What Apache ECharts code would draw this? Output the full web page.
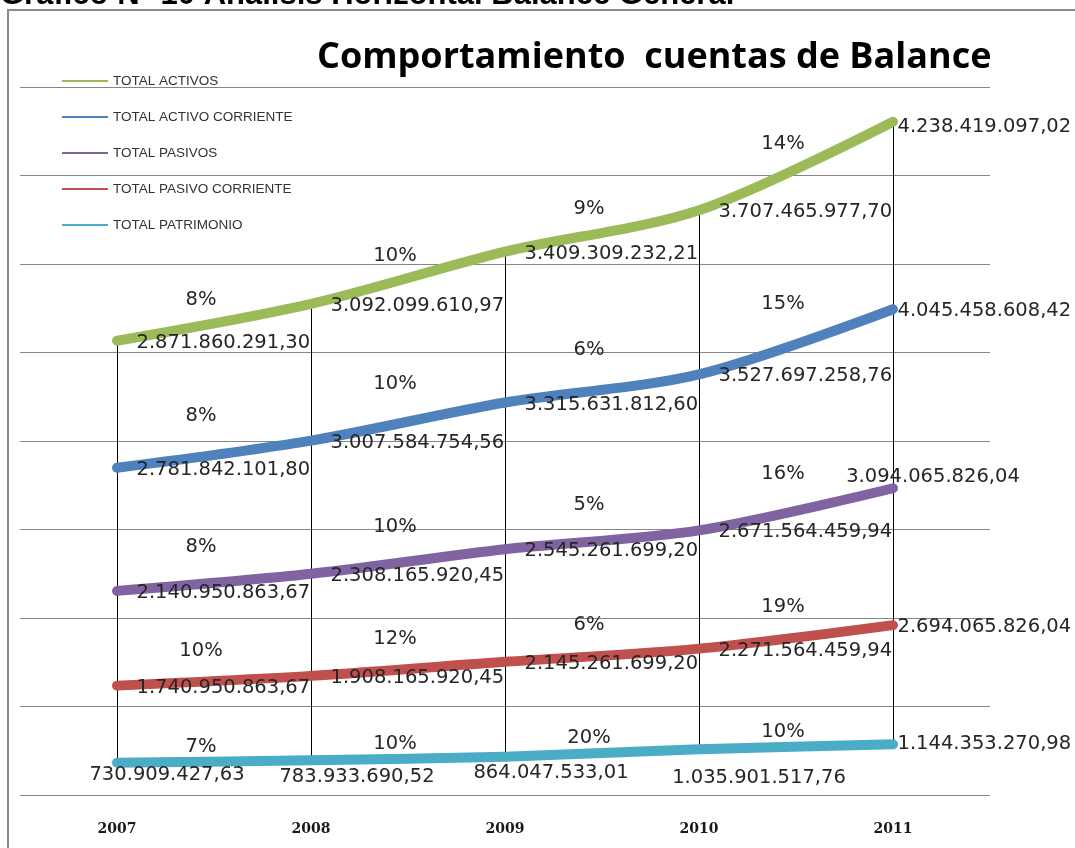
<!DOCTYPE html>
<html>
<head>
<meta charset="utf-8">
<script src="https://cdn.jsdelivr.net/npm/echarts@6/dist/echarts.min.js"></script>
<style>
html,body{margin:0;padding:0;background:#fff}
#chart{width:1075px;height:848px}
</style>
</head>
<body>
<div id="chart"></div>
<script>
var years = ['2007', '2008', '2009', '2010', '2011'];

// valores de cada cuenta
var totalActivos = [2871860291.30, 3092099610.97, 3409309232.21, 3707465977.70, 4238419097.02];
var totalActivoCorriente = [2781842101.80, 3007584754.56, 3315631812.60, 3527697258.76, 4045458608.42];
var totalPasivos = [2140950863.67, 2308165920.45, 2545261699.20, 2671564459.94, 3094065826.04];
var totalPasivoCorriente = [1740950863.67, 1908165920.45, 2145261699.20, 2271564459.94, 2694065826.04];
var totalPatrimonio = [730909427.63, 783933690.52, 864047533.01, 1035901517.76, 1144353270.98];

// variacion horizontal entre años
var pctActivos = ['8%', '10%', '9%', '14%'];
var pctActivoCorriente = ['8%', '10%', '6%', '15%'];
var pctPasivos = ['8%', '10%', '5%', '16%'];
var pctPasivoCorriente = ['10%', '12%', '6%', '19%'];
var pctPatrimonio = ['7%', '10%', '20%', '10%'];

var legendNames = ['TOTAL ACTIVOS', 'TOTAL ACTIVO CORRIENTE', 'TOTAL PASIVOS', 'TOTAL PASIVO CORRIENTE', 'TOTAL PATRIMONIO'];

var labelFont = 'DejaVu Sans';
var labelColor = '#262626';

/**
 * formato 1.234.567,89
 */
function fmt(v) {
  var p = v.toFixed(2).split('.');
  return p[0].replace(/\B(?=(\d{3})+(?!\d))/g, '.') + ',' + p[1];
}

// apilado (de abajo hacia arriba): patrimonio, pasivo corriente, pasivos, activo corriente, activos
var order = [
  {name: 'TOTAL PATRIMONIO', data: totalPatrimonio, pct: pctPatrimonio, color: '#4BACC6', dy: -15},
  {name: 'TOTAL PASIVO CORRIENTE', data: totalPasivoCorriente, pct: pctPasivoCorriente, color: '#C0504D', dy: -30},
  {name: 'TOTAL PASIVOS', data: totalPasivos, pct: pctPasivos, color: '#8064A2', dy: -35},
  {name: 'TOTAL ACTIVO CORRIENTE', data: totalActivoCorriente, pct: pctActivoCorriente, color: '#4F81BD', dy: -38},
  {name: 'TOTAL ACTIVOS', data: totalActivos, pct: pctActivos, color: '#9BBB59', dy: -22}
];

var cum = years.map(function () { return 0; });
order.forEach(function (s) {
  s.top = s.data.map(function (v, i) { cum[i] += v; return cum[i]; });
});

function labelFor(name, i) {
  var last = i === years.length - 1;
  if (name === 'TOTAL PATRIMONIO') {
    if (last) return {position: 'right', distance: 4};
    if (i === 3) return {position: 'bottom', distance: 18, offset: [60, 0]};
    if (i === 0) return {position: 'bottom', distance: 2, offset: [50, 0]};
    return {position: 'bottom', distance: 6, offset: [46, 0]};
  }
  if (name === 'TOTAL PASIVOS' && last) return {position: 'top', distance: 1, offset: [40, 0]};
  if (name === 'TOTAL ACTIVOS' && last) return {position: 'right', distance: 4, offset: [0, 5]};
  if (last) return {position: 'right', distance: 4, offset: [0, 2]};
  return {position: 'right', distance: 19, offset: [0, 2]};
}

var series = [];

// lineas de maximos y minimos
series.push({
  type: 'custom',
  silent: true,
  z: 1,
  data: years.map(function (y, i) { return [i, cum[i], totalPatrimonio[i]]; }),
  renderItem: function (params, api) {
    var a = api.coord([api.value(0), api.value(1)]);
    var b = api.coord([api.value(0), api.value(2)]);
    var x = Math.round(a[0]) + 0.5;
    return {type: 'line', shape: {x1: x, y1: a[1], x2: x, y2: b[1]}, style: {stroke: '#000', lineWidth: 1}};
  }
});

order.forEach(function (s) {
  series.push({
    name: s.name,
    type: 'line',
    stack: 'total',
    smooth: 0.3,
    symbol: 'circle',
    symbolSize: 1,
    z: 2,
    color: s.color,
    lineStyle: {width: 10, color: s.color, cap: 'round', join: 'round'},
    itemStyle: {color: s.color},
    label: {
      show: true,
      fontFamily: labelFont,
      fontSize: 19.5,
      color: labelColor,
      formatter: function (p) { return fmt(p.value); }
    },
    emphasis: {disabled: true},
    data: s.data.map(function (v, i) { return {value: v, label: labelFor(s.name, i)}; })
  });
  series.push({
    type: 'custom',
    silent: true,
    z: 3,
    data: s.pct.map(function (t, i) { return [i, i + 1]; }),
    renderItem: function (params, api) {
      var i = params.dataIndex;
      var a = api.coord([i, s.top[i]]);
      var b = api.coord([i + 1, s.top[i + 1]]);
      return {
        type: 'text',
        x: (a[0] + b[0]) / 2 - 13,
        y: (a[1] + b[1]) / 2 + s.dy,
        style: {text: s.pct[i], font: '19.5px "DejaVu Sans"', fill: labelColor, align: 'center', verticalAlign: 'middle'}
      };
    }
  });
});

var option = {
  animation: false,
  backgroundColor: '#fff',
  title: {
    text: 'Comportamiento  cuentas de Balance',
    left: 312,
    top: 35,
    textStyle: {fontFamily: 'Open Sans', fontWeight: 'bold', fontSize: 36, color: '#000'}
  },
  legend: {
    data: legendNames,
    orient: 'vertical',
    left: 57,
    top: 68,
    icon: 'rect',
    itemWidth: 46,
    itemHeight: 2,
    itemGap: 20,
    textStyle: {fontFamily: 'Liberation Sans', fontSize: 13.5, color: '#333', lineHeight: 16}
  },
  grid: {left: 20, right: 85, top: 87, bottom: 53},
  xAxis: {
    type: 'category',
    data: years,
    boundaryGap: true,
    axisLine: {show: false},
    axisTick: {show: false},
    axisLabel: {margin: 27, fontFamily: 'DejaVu Serif', fontWeight: 'bold', fontSize: 14, color: '#1a1a1a'}
  },
  yAxis: {
    type: 'value',
    min: 0,
    max: 16000000000,
    interval: 2000000000,
    axisLabel: {show: false},
    axisLine: {show: false},
    axisTick: {show: false},
    splitLine: {lineStyle: {color: '#868686', width: 1}}
  },
  graphic: [
    {type: 'rect', z: -1, shape: {x: 8, y: 10, width: 1100, height: 900}, style: {fill: 'none', stroke: '#8a8a8a', lineWidth: 2}},
    {type: 'text', x: 0, y: 11, style: {text: 'Gráfico N° 10 Análisis Horizontal Balance General', font: 'bold 31px "Liberation Sans"', fill: '#000', verticalAlign: 'bottom'}}
  ],
  series: series
};

var myChart = echarts.init(document.getElementById('chart'));
myChart.setOption(option);
</script>
</body>
</html>
